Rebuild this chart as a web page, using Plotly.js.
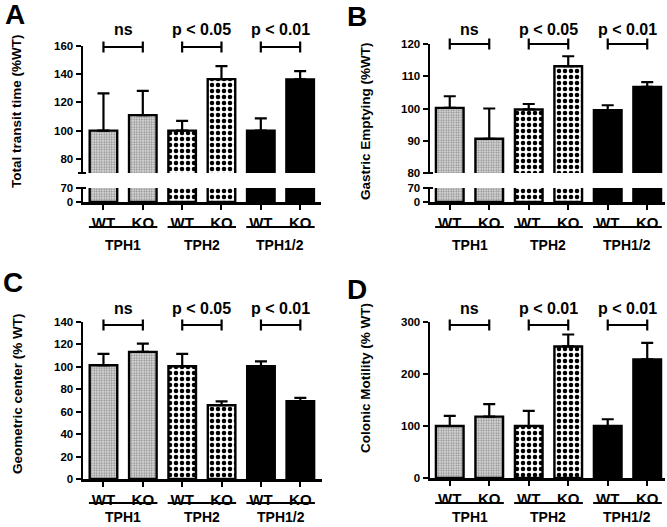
<!DOCTYPE html>
<html>
<head>
<meta charset="utf-8">
<script src="https://cdn.plot.ly/plotly-3.0.1.min.js"></script>
<style>html,body{margin:0;padding:0;background:#fff}#chart{width:667px;height:527px}</style>
</head>
<body>
<div id="chart"></div>
<script>
// ---------------- data ----------------
const groups = ['TPH1', 'TPH2', 'TPH1/2'];
const genotypes = ['WT', 'KO'];

const transitMean = [100, 111, 100, 136.5, 100, 136.3];
const transitErr  = [26.4, 17.2, 6.9, 9.2, 8.7, 5.9];

const gastricMean = [100.2, 90.6, 99.7, 113.1, 99.5, 106.7];
const gastricErr  = [3.6, 9.4, 1.7, 3.1, 1.5, 1.5];

const geoMean = [101.5, 113.4, 100.6, 65.8, 100.6, 69.3];
const geoErr  = [10.1, 7.4, 11, 3.5, 4.2, 3];

const colonicMean = [100, 118, 100, 253, 100, 228];
const colonicErr  = [19.4, 24, 29, 23, 13, 32];

const sigA = ['ns', 'p < 0.05', 'p < 0.01'];
const sigB = ['ns', 'p < 0.05', 'p < 0.01'];
const sigC = ['ns', 'p < 0.05', 'p < 0.01'];
const sigD = ['ns', 'p < 0.01', 'p < 0.01'];

const titleA = 'Total transit time (%WT)';
const titleB = 'Gastric Emptying (%WT)';
const titleC = 'Geometric center (% WT)';
const titleD = 'Colonic Motility (% WT)';

// ---------------- helpers ----------------
const W = 667, H = 527;
const fx = p => p / W, fy = p => 1 - p / H;
const FAM = 'Liberation Sans, Arial, Helvetica, sans-serif';
const cats = groups.flatMap(g => genotypes.map(k => g + ' ' + k));
const tickText = groups.flatMap(() => genotypes);

const groupStyle = [
  {shape: '.', fg: '#8a8a8a', bg: '#e2e2e2', size: 2.5, solidity: 0.45},
  {shape: '.', fg: '#000000', bg: '#ffffff', size: 6, solidity: 0.45},
  {shape: '',  fg: '#000000', bg: '#000000', size: 6, solidity: 0.5}
];

function bars(xa, ya, mean, err, withErr) {
  return groups.map((g, gi) => {
    const idx = genotypes.map((k, ki) => gi * genotypes.length + ki);
    const st = groupStyle[gi];
    const t = {
      type: 'bar', xaxis: xa, yaxis: ya,
      x: idx.map(i => cats[i]), y: idx.map(i => mean[i]),
      width: 0.7,
      marker: {
        color: st.bg,
        line: {color: '#000', width: 2.4},
        pattern: st.shape ? {shape: st.shape, fgcolor: st.fg, bgcolor: st.bg, size: st.size, solidity: st.solidity, fillmode: 'replace'} : undefined
      },
      showlegend: false, hoverinfo: 'skip'
    };
    if (withErr) {
      t.error_y = {type: 'data', symmetric: false, array: idx.map(i => err[i]),
        arrayminus: idx.map(() => 0), color: '#000', thickness: 2.2, width: 6};
    }
    return t;
  });
}

function xAxis(px, range, anchor) {
  return {domain: [fx(px[0]), fx(px[1])], range: range, type: 'category',
    categoryorder: 'array', categoryarray: cats, tickvals: cats, ticktext: tickText,
    anchor: anchor, showline: true, linecolor: '#000', linewidth: 2.5,
    ticks: 'outside', ticklen: 5, tickwidth: 2, tickcolor: '#000',
    showgrid: false, zeroline: false, fixedrange: true,
    tickfont: {family: FAM, size: 15, weight: 'bold', color: '#000'}};
}
function yAxis(px, range, tickvals, anchor) {
  return {domain: [fy(px[1]), fy(px[0])], range: range, tickvals: tickvals,
    anchor: anchor, showline: true, linecolor: '#000', linewidth: 2.5,
    ticks: 'outside', ticklen: 5, tickwidth: 2, tickcolor: '#000',
    showgrid: false, zeroline: false, fixedrange: true,
    tickfont: {family: FAM, size: 11.5, weight: 'bold', color: '#000'}};
}

const layout = {
  width: W, height: H, autosize: false,
  margin: {l: 0, r: 0, t: 0, b: 0, pad: 0},
  paper_bgcolor: '#fff', plot_bgcolor: 'rgba(0,0,0,0)',
  barmode: 'overlay', showlegend: false,
  annotations: [], shapes: []
};
let data = [];

const panels = [
  {letter: 'A', lpos: [15, 15], xa: 'x', xk: 'xaxis', xpx: [83, 321], xr: [-0.52, 5.53],
   up: {ya: 'y', yk: 'yaxis', px: [46, 173], r: [70, 160], tv: [80, 100, 120, 140, 160]},
   lo: {ya: 'y2', yk: 'yaxis2', px: [188, 202], r: [0, 70], tv: [0, 70]},
   mean: transitMean, err: transitErr, sig: sigA, title: titleA, tpos: [16, 111],
   brY: 47, sigY: 29, ulY: 227, grpY: 245},
  {letter: 'B', lpos: [357, 16], xa: 'x2', xk: 'xaxis2', xpx: [430, 665], xr: [-0.5, 5.45],
   up: {ya: 'y3', yk: 'yaxis3', px: [44, 173], r: [80, 120], tv: [80, 90, 100, 110, 120]},
   lo: {ya: 'y4', yk: 'yaxis4', px: [188, 202], r: [0, 70], tv: [0, 70]},
   mean: gastricMean, err: gastricErr, sig: sigB, title: titleB, tpos: [365, 121],
   brY: 44, sigY: 29, ulY: 227, grpY: 245},
  {letter: 'C', lpos: [13, 282], xa: 'x3', xk: 'xaxis3', xpx: [83, 322], xr: [-0.52, 5.55],
   one: {ya: 'y5', yk: 'yaxis5', px: [322, 479], r: [0, 140], tv: [0, 20, 40, 60, 80, 100, 120, 140]},
   mean: geoMean, err: geoErr, sig: sigC, title: titleC, tpos: [17, 394],
   brY: 325, sigY: 308, ulY: 503, grpY: 517},
  {letter: 'D', lpos: [357, 289], xa: 'x4', xk: 'xaxis4', xpx: [430, 665], xr: [-0.5, 5.45],
   one: {ya: 'y6', yk: 'yaxis6', px: [322, 478], r: [0, 300], tv: [0, 100, 200, 300]},
   mean: colonicMean, err: colonicErr, sig: sigD, title: titleD, tpos: [365, 378],
   brY: 325, sigY: 308, ulY: 503, grpY: 517}
];

panels.forEach(p => {
  if (p.up) {
    layout[p.xk] = xAxis(p.xpx, p.xr, p.lo.ya);
    layout[p.up.yk] = yAxis(p.up.px, p.up.r, p.up.tv, p.xa);
    layout[p.lo.yk] = yAxis(p.lo.px, p.lo.r, p.lo.tv, p.xa);
    data = data.concat(bars(p.xa, p.up.ya, p.mean, p.err, true));
    data = data.concat(bars(p.xa, p.lo.ya, p.mean, p.err, false));
    // break caps on the y axis
    const ax = fx(p.xpx[0] - 1);
    layout.shapes.push({type: 'line', xref: 'paper', yref: 'paper', x0: ax - fx(4), x1: ax + fx(4),
      y0: fy(p.up.px[1]), y1: fy(p.up.px[1]), line: {color: '#000', width: 2}});
    layout.shapes.push({type: 'line', xref: 'paper', yref: 'paper', x0: ax - fx(4), x1: ax + fx(4),
      y0: fy(p.lo.px[0]), y1: fy(p.lo.px[0]), line: {color: '#000', width: 2}});
  } else {
    layout[p.xk] = xAxis(p.xpx, p.xr, p.one.ya);
    layout[p.one.yk] = yAxis(p.one.px, p.one.r, p.one.tv, p.xa);
    data = data.concat(bars(p.xa, p.one.ya, p.mean, p.err, true));
  }
  // panel letter
  layout.annotations.push({text: p.letter, xref: 'paper', yref: 'paper', x: fx(p.lpos[0]), y: fy(p.lpos[1]),
    xanchor: 'center', yanchor: 'middle', showarrow: false,
    font: {family: FAM, size: 28, weight: 'bold', color: '#000'}});
  // y title
  layout.annotations.push({text: p.title, xref: 'paper', yref: 'paper', x: fx(p.tpos[0]), y: fy(p.tpos[1]),
    xanchor: 'center', yanchor: 'middle', textangle: -90, showarrow: false,
    font: {family: FAM, size: 13.5, weight: 'bold', color: '#000'}});
  groups.forEach((g, gi) => {
    const a = gi * genotypes.length, b = a + genotypes.length - 1, c = (a + b) / 2;
    // significance text + bracket
    layout.annotations.push({text: p.sig[gi], xref: p.xa, yref: 'paper', x: c, y: fy(p.sigY),
      xanchor: 'center', yanchor: 'middle', showarrow: false,
      font: {family: FAM, size: 16, weight: 'bold', color: '#000'}});
    layout.shapes.push({type: 'line', xref: p.xa, yref: 'paper', x0: a, x1: b, y0: fy(p.brY), y1: fy(p.brY),
      line: {color: '#000', width: 2.2}});
    [a, b].forEach(e => layout.shapes.push({type: 'line', xref: p.xa, yref: 'paper', x0: e, x1: e,
      y0: fy(p.brY - 5.5), y1: fy(p.brY + 5.5), line: {color: '#000', width: 2.2}}));
    // underline and group label
    layout.shapes.push({type: 'line', xref: p.xa, yref: 'paper', x0: a - 0.37, x1: b + 0.37,
      y0: fy(p.ulY), y1: fy(p.ulY), line: {color: '#000', width: 2.2}});
    layout.annotations.push({text: g, xref: p.xa, yref: 'paper', x: c, y: fy(p.grpY),
      xanchor: 'center', yanchor: 'middle', showarrow: false,
      font: {family: FAM, size: 14, weight: 'bold', color: '#000'}});
  });
});

Plotly.newPlot('chart', data, layout, {staticPlot: true, displayModeBar: false});
</script>
</body>
</html>
